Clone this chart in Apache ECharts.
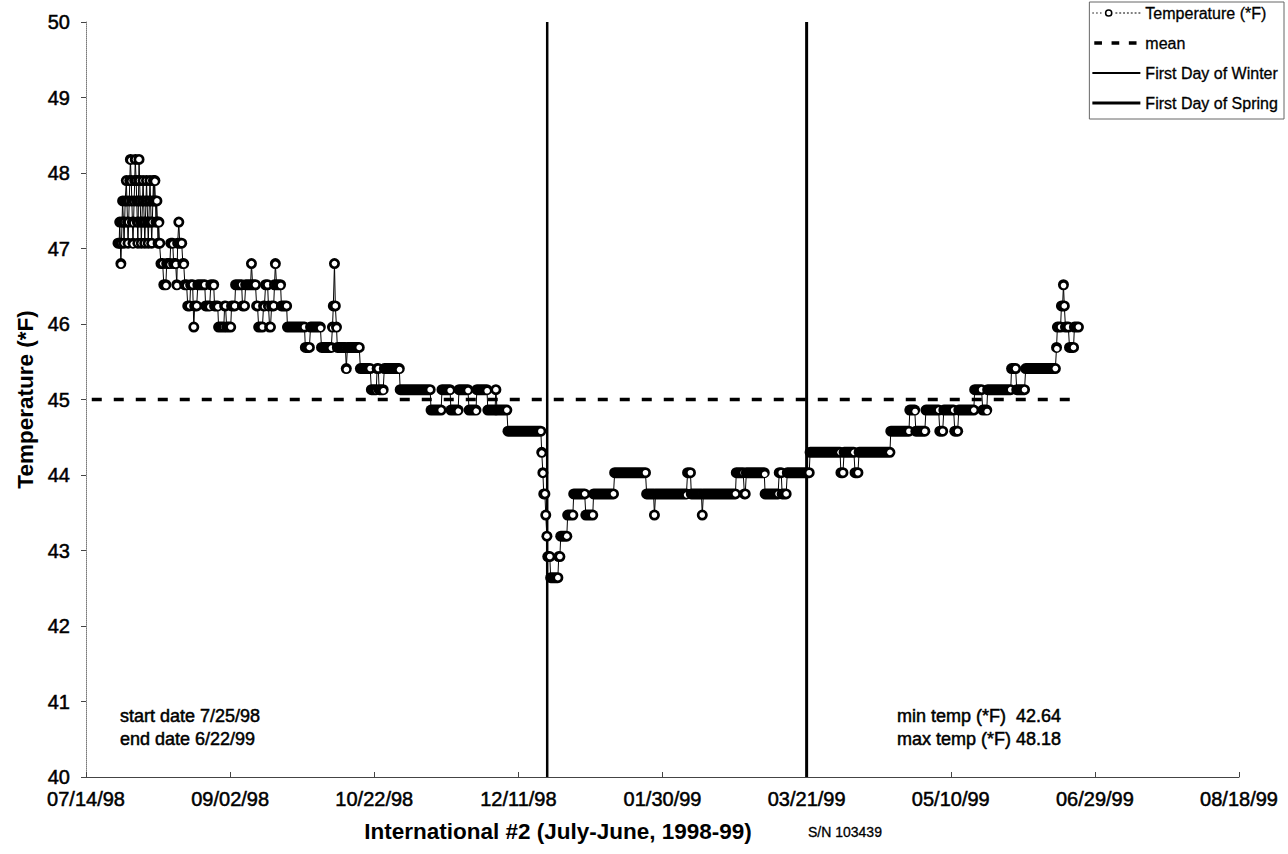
<!DOCTYPE html>
<html><head><meta charset="utf-8">
<script src="https://cdn.jsdelivr.net/npm/echarts@6/dist/echarts.min.js"></script>
<style>html,body{margin:0;padding:0;background:#fff}#c{width:1288px;height:854px}</style>
</head><body><div id="c"></div>
<script>
// x values are days since 07/14/98
const tickLabels = ['07/14/98','09/02/98','10/22/98','12/11/98','01/30/99','03/21/99','05/10/99','06/29/99','08/18/99'];

// runs of equal readings: [first day, last day, temperature (*F)]
const julyRuns = [
 [11.1,11.5,47.07],[11.7,11.7,47.35],[11.9,11.9,47.07],[12.1,12.1,46.80],[12.3,12.3,47.07],[12.5,12.5,47.35],
 [12.7,12.8,47.63],[13.0,13.0,47.35],[13.2,13.2,47.07],[13.4,13.4,47.35],[13.6,13.6,47.63],[14.0,14.0,47.90],
 [14.2,14.2,47.63],[14.4,14.4,47.35],[14.6,14.6,47.07],[14.8,14.8,47.35],[15.0,15.0,47.63],[15.2,15.2,47.90],
 [15.4,15.5,48.18],[15.7,15.7,47.90],[15.9,15.9,47.63],[16.1,16.1,47.35],[16.3,16.3,47.07],[16.5,16.5,47.35],
 [16.7,16.7,47.63],[16.9,16.9,47.90],[17.1,17.2,48.18],[17.4,17.4,47.90],[17.6,17.6,47.63],[17.8,17.8,47.35],
 [18.0,18.0,47.07],[18.1,18.1,47.35],[18.2,18.2,47.63],[18.3,18.3,47.90],[18.4,18.4,48.18],[18.6,18.6,47.90],
 [18.8,18.8,47.63],[19.0,19.0,47.35],[19.2,19.2,47.07],[19.4,19.4,47.35],[19.6,19.6,47.63],[19.8,19.8,47.90],
 [20.0,20.0,47.63],[20.2,20.2,47.35],[20.4,20.4,47.07],[20.6,20.6,47.35],[20.8,20.8,47.63],[21.0,21.0,47.90],
 [21.2,21.2,47.63],[21.4,21.4,47.35],[21.6,21.6,47.07],[21.8,21.8,47.35],[22.0,22.0,47.63],[22.2,22.2,47.90],
 [22.4,22.4,47.63],[22.6,22.6,47.35],[22.8,22.8,47.07],[23.0,23.0,47.35],[23.2,23.2,47.63],[23.4,23.4,47.90],
 [23.6,23.6,47.63],[23.8,23.9,47.90],[24.1,24.1,47.63],[24.3,24.3,47.35],[24.5,24.6,47.63],[24.8,24.8,47.35],
 [25.0,25.0,47.07],[25.2,25.3,47.35],[25.5,25.6,47.07]
];
const augustRuns = [
 [26.0,26.6,46.80],[27.0,27.7,46.52],[28.0,29.1,46.80],[29.4,30.1,47.07],[30.4,31.1,46.80],[31.5,31.5,46.52],
 [31.8,31.8,47.07],[32.2,32.2,47.35],[32.5,33.2,47.07],[33.6,33.9,46.80],[34.3,34.9,46.52],[35.3,36.0,46.24],
 [36.3,37.0,46.52],[37.4,37.4,45.96],[37.7,38.4,46.24],[38.8,41.2,46.52],[41.5,42.9,46.24],[43.3,44.3,46.52],
 [44.6,45.7,46.24],[46.0,47.8,45.96],[48.1,48.4,46.24],[48.8,50.2,45.96],[50.5,51.6,46.24],[51.9,54.0,46.52],
 [54.3,55.0,46.24],[55.4,57.1,46.52],[57.4,57.4,46.80],[57.8,58.8,46.52],[59.2,59.5,46.24],[59.9,61.2,45.96],
 [61.6,61.9,46.24],[62.3,63.0,46.52],[63.3,63.3,46.24],[63.7,64.0,45.96],[64.4,65.1,46.24],[65.4,65.4,46.52],
 [65.7,65.7,46.80],[66.1,67.5,46.52],[67.8,69.6,46.24]
];
const autumnRuns = [
 [69.9,75.8,45.96],[76.1,77.5,45.69],[77.9,81.3,45.96],[81.7,85.1,45.69],[85.5,85.5,45.96],[85.8,85.8,46.24],
 [86.2,86.2,46.80],[86.5,86.5,46.24],[86.9,86.9,45.96],[87.2,90.0,45.69],[90.3,90.3,45.41],[90.7,94.8,45.69],
 [95.2,98.6,45.41],[99.0,100.7,45.13],[101.0,101.4,45.41],[101.7,103.1,45.13],[103.5,108.7,45.41],[109.0,119.4,45.13],
 [119.7,123.2,44.86],[123.5,126.3,45.13],[126.6,129.1,44.86],[129.4,132.5,45.13],[132.9,135.3,44.86],[135.6,139.1,45.13],
 [139.4,141.9,44.86],[142.2,142.2,45.13],[142.6,146.0,44.86],[146.4,157.8,44.58]
];
const winterRuns = [
 [158.1,158.1,44.30],[158.5,158.5,44.03],[158.8,159.2,43.75],[159.5,159.5,43.47],[159.9,159.9,43.19],[160.2,160.9,42.92],
 [161.2,163.7,42.64],[164.0,164.4,42.92],[164.7,166.8,43.19],[167.1,168.9,43.47],[169.2,173.0,43.75],[173.4,175.8,43.47],
 [176.1,183.0,43.75],[183.4,194.1,44.03],[194.5,196.9,43.75],[197.2,197.2,43.47],[197.6,208.3,43.75],[208.7,209.7,44.03],
 [210.0,213.5,43.75],[213.8,213.8,43.47],[214.2,225.3,43.75],[225.6,228.0,44.03],[228.4,228.7,43.75],[229.1,235.3,44.03],
 [235.6,240.1,43.75],[240.5,241.2,44.03],[241.5,242.9,43.75],[243.3,250.9,44.03]
];
const springRuns = [
 [251.2,261.6,44.30],[261.9,262.6,44.03],[263.0,266.4,44.30],[266.8,267.8,44.03],[268.2,278.9,44.30],[279.2,285.5,44.58],
 [285.8,287.5,44.86],[287.9,291.0,44.58],[291.4,295.8,44.86],[296.2,297.2,44.58],[297.6,301.0,44.86],[301.4,302.4,44.58],
 [302.8,308.0,44.86],[308.3,310.7,45.13],[311.1,312.5,44.86],[312.8,320.8,45.13],[321.1,322.5,45.41],[322.9,325.6,45.13],
 [326.0,336.3,45.41],[336.7,336.7,45.69],[337.0,338.1,45.96],[338.4,338.8,46.24],[339.1,339.1,46.52],[339.4,339.4,46.24],
 [339.8,340.8,45.96],[341.2,342.6,45.69],[342.9,344.3,45.96]
];

const meanTemp = 45.0;
const meanSpan = [2, 345];
const winterDay = 160;   // 12/21/98
const springDay = 250;   // 03/21/99

const runs = julyRuns.concat(augustRuns, autumnRuns, winterRuns, springRuns);
const pathData = [];
runs.forEach(r => { pathData.push([r[0], r[2]]); if (r[1] !== r[0]) pathData.push([r[1], r[2]]); });

const FONT = '"Liberation Sans", Arial, Helvetica, sans-serif';
const INK = {textBorderColor:'#000', textBorderWidth:0.5};

function renderRun(params, api) {
  const a = api.coord([api.value(0), api.value(2)]);
  const b = api.coord([api.value(1), api.value(2)]);
  const R = 5.5;
  return {type:'group', children:[
    {type:'rect', shape:{x:a[0]-R, y:a[1]-R, width:b[0]-a[0]+2*R, height:2*R, r:R}, style:{fill:'#000'}},
    {type:'circle', shape:{cx:b[0], cy:b[1], r:2.8}, style:{fill:'#fff'}}
  ]};
}

// legend icons drawn in a 50x10 box (tiny corner marks fix the box)
const BOX = 'M0,0h0.01v0.01z M49.99,9.99h0.01v0.01z ';
const iconTemp = 'path://' + BOX +
  'M0,4.5h1.5v1h-1.5z M4,4.5h1.5v1h-1.5z M8,4.5h1.5v1h-1.5z ' +
  'M13,5a4,4 0 1,0 8,0a4,4 0 1,0 -8,0z M14.6,5a2.4,2.4 0 1,1 4.8,0a2.4,2.4 0 1,1 -4.8,0z ' +
  'M24,4.5h2v1h-2z M28,4.5h2v1h-2z M32,4.5h2v1h-2z M36,4.5h2v1h-2z M40,4.5h2v1h-2z M44,4.5h2v1h-2z M48,4.5h2v1h-2z';
const iconMean = 'path://' + BOX + 'M2,3.3h8v3.4h-8z M20,3.3h8v3.4h-8z M38,3.3h8v3.4h-8z';
const iconWinter = 'path://' + BOX + 'M0,4h50v2h-50z';
const iconSpring = 'path://' + BOX + 'M0,3.5h50v3h-50z';

function note(x, y, text, extra) {
  return {type:'text', x:x, y:y, style:Object.assign({text:text, fontSize:18, fontFamily:FONT, fill:'#000',
    stroke:'#000', lineWidth:0.5, verticalAlign:'middle'}, extra || {})};
}

const chart = echarts.init(document.getElementById('c'), null, {renderer:'svg'});
chart.setOption({
  animation:false,
  backgroundColor:'#fff',
  grid:{left:86, right:49, top:22, bottom:77},
  xAxis:{type:'value', min:0, max:400, interval:50,
    axisLine:{lineStyle:{color:'#444', width:1}},
    axisTick:{inside:true, length:5, lineStyle:{color:'#444'}},
    axisLabel:Object.assign({formatter:v => tickLabels[Math.round(v/50)], fontSize:20, color:'#000', fontFamily:FONT, margin:12}, INK),
    splitLine:{show:false}},
  yAxis:{type:'value', min:40, max:50, interval:1,
    name:'Temperature (*F)', nameLocation:'middle', nameGap:47, nameRotate:90,
    nameTextStyle:{fontSize:22.5, fontWeight:'bold', color:'#000', fontFamily:FONT},
    axisLine:{show:true, lineStyle:{color:'#777', type:'dotted'}},
    axisTick:{show:true, length:5, lineStyle:{color:'#444'}},
    axisLabel:Object.assign({fontSize:20, color:'#000', fontFamily:FONT, margin:16}, INK),
    splitLine:{show:false}},
  legend:{orient:'vertical', right:4, top:2, itemWidth:48, itemHeight:10, itemGap:12,
    padding:[2,6,7,3], borderColor:'#666', borderWidth:1, backgroundColor:'#fff',
    symbolKeepAspect:true,
    textStyle:{fontSize:16, color:'#000', fontFamily:FONT, lineHeight:18, textBorderColor:'#000', textBorderWidth:0.3},
    data:[
      {name:'Temperature (*F)', icon:iconTemp},
      {name:'mean', icon:iconMean},
      {name:'First Day of Winter', icon:iconWinter},
      {name:'First Day of Spring', icon:iconSpring}
    ]},
  graphic:[
    note(120, 716, 'start date 7/25/98'),
    note(120, 739, 'end date 6/22/99'),
    note(897, 716, 'min temp (*F)  42.64'),
    note(897, 739, 'max temp (*F) 48.18'),
    note(558, 831, 'International #2 (July-June, 1998-99)', {fontSize:22.5, fontWeight:'bold', align:'center', lineWidth:0}),
    note(808, 832, 'S/N 103439', {fontSize:14, lineWidth:0.3})
  ],
  series:[
    {name:'First Day of Winter', type:'line', data:[[winterDay,40],[winterDay,50]], symbol:'none',
      lineStyle:{color:'#000', width:2.5}, itemStyle:{color:'#000'}, z:1},
    {name:'First Day of Spring', type:'line', data:[[springDay,40],[springDay,50]], symbol:'none',
      lineStyle:{color:'#000', width:3}, itemStyle:{color:'#000'}, z:1},
    {name:'mean', type:'line', data:[[meanSpan[0],meanTemp],[meanSpan[1],meanTemp]], symbol:'none',
      lineStyle:{color:'#000', width:3.5, type:[10,12]}, itemStyle:{color:'#000'}, z:2},
    {name:'Temperature (*F)', type:'line', data:pathData, symbol:'none',
      lineStyle:{color:'#000', width:1}, itemStyle:{color:'#000'}, z:3},
    {name:'readings', type:'custom', data:runs, renderItem:renderRun, encode:{x:[0,1], y:2}, z:4}
  ]
});
</script>
</body></html>
